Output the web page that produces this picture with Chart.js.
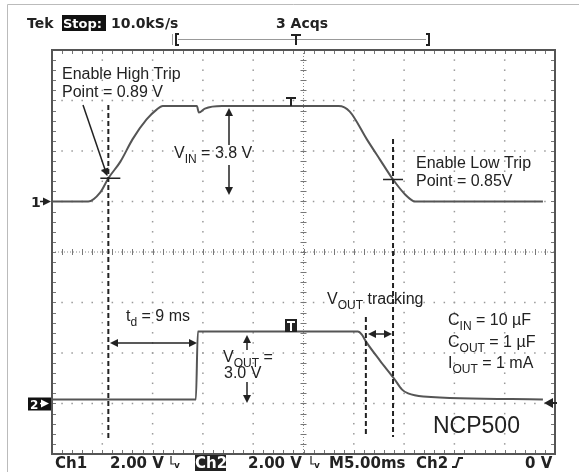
<!DOCTYPE html>
<html>
<head>
<meta charset="utf-8">
<script src="https://cdn.jsdelivr.net/npm/chart.js@4/dist/chart.umd.min.js"></script>
<style>
  body { margin: 0; background: #fff; }
  canvas { display: block; }
</style>
</head>
<body>
<canvas id="scope" width="579" height="472"></canvas>
<script>
// time axis in ms (5 ms/div), volts per channel (2 V/div)
var ch1Time  = [-25, -21.4, -20.2, -19.4, -18.2, -17.0, -15.6, -14.6, -14.0, -10.6, -10.4, -9.8, -8.1, 3.5, 4.6, 6.3, 7.6, 8.9, 10.1, 11.1, 23.8];
var ch1Volts = [0, 0, 0.36, 0.92, 1.58, 2.46, 3.25, 3.64, 3.78, 3.78, 3.52, 3.68, 3.78, 3.78, 3.56, 2.46, 1.66, 0.87, 0.28, 0, 0];
var ch2Time  = [-25, -10.7, -10.5, 5.4, 5.8, 6.2, 7.6, 9.0, 9.8, 10.4, 11.9, 23.8];
var ch2Volts = [0.16, 0.16, 2.85, 2.85, 2.73, 2.46, 1.7, 0.99, 0.55, 0.4, 0.28, 0.16];
var cursorTimes = [-19.4, 6.2, 8.9];

var voltsPerDiv = 2;
var ch1Offset = 1;   // ground marker position, in divisions
var ch2Offset = -3;

function toPoints(t, v, off) {
  var pts = [];
  for (var i = 0; i < t.length; i++) pts.push({ x: t[i], y: off + v[i] / voltsPerDiv });
  return pts;
}

function arrow(ctx, x1, y1, x2, y2) {
  var a = Math.atan2(y2 - y1, x2 - x1), h = 8;
  ctx.beginPath();
  ctx.moveTo(x1, y1);
  ctx.lineTo(x2 - Math.cos(a) * 4, y2 - Math.sin(a) * 4);
  ctx.stroke();
  ctx.beginPath();
  ctx.moveTo(x2, y2);
  ctx.lineTo(x2 - h * Math.cos(a) + 4 * Math.sin(a), y2 - h * Math.sin(a) - 4 * Math.cos(a));
  ctx.lineTo(x2 - h * Math.cos(a) - 4 * Math.sin(a), y2 - h * Math.sin(a) + 4 * Math.cos(a));
  ctx.closePath();
  ctx.fill();
}

// text with subscripts: parts = [[text, isSub], ...]
function rich(ctx, x, y, parts, size) {
  for (var i = 0; i < parts.length; i++) {
    var sub = parts[i][1];
    ctx.font = (sub ? Math.round(size * 0.72) : size) + 'px "Liberation Sans", Arial, sans-serif';
    ctx.fillText(parts[i][0], x, sub ? y + size * 0.3 : y);
    x += ctx.measureText(parts[i][0]).width;
  }
}

var gridPlugin = {
  id: 'scopeGrid',
  beforeDraw: function (chart) {
    var ctx = chart.ctx;
    ctx.save();
    ctx.fillStyle = '#fff';
    ctx.fillRect(0, 0, chart.width, chart.height);
    ctx.strokeStyle = '#bbb';
    ctx.lineWidth = 1;
    ctx.beginPath();
    ctx.moveTo(7.5, 472); ctx.lineTo(7.5, 4.5); ctx.lineTo(579, 4.5);
    ctx.stroke();
    ctx.restore();
  },
  beforeDatasetsDraw: function (chart) {
    var ctx = chart.ctx, sx = chart.scales.x, sy = chart.scales.y, a = chart.chartArea;
    ctx.save();
    ctx.fillStyle = '#999';
    var i, k, px, py;
    // dotted vertical grid
    for (i = -20; i <= 20; i += 5) {
      if (i === 0) continue;
      px = sx.getPixelForValue(i);
      for (k = -4; k <= 4.001; k += 0.2) {
        py = sy.getPixelForValue(k);
        ctx.fillRect(px - 0.75, py - 0.75, 1.5, 1.5);
      }
    }
    // dotted horizontal grid
    for (i = -3; i <= 3; i++) {
      if (i === 0) continue;
      py = sy.getPixelForValue(i);
      for (k = -25; k <= 25; k += 1) {
        px = sx.getPixelForValue(k);
        ctx.fillRect(px - 0.75, py - 0.75, 1.5, 1.5);
      }
    }
    // centre cross with minor ticks
    var cx = sx.getPixelForValue(0), cy = sy.getPixelForValue(0);
    ctx.strokeStyle = '#888';
    ctx.lineWidth = 1;
    ctx.setLineDash([1, 2]);
    ctx.beginPath();
    ctx.moveTo(a.left, cy); ctx.lineTo(a.right, cy);
    ctx.moveTo(cx, a.top); ctx.lineTo(cx, a.bottom);
    ctx.stroke();
    ctx.setLineDash([]);
    ctx.strokeStyle = '#777';
    ctx.beginPath();
    for (k = -25; k <= 25; k += 1) {
      px = Math.round(sx.getPixelForValue(k)) + 0.5;
      ctx.moveTo(px, cy - 3); ctx.lineTo(px, cy + 3);
      ctx.moveTo(px, a.top); ctx.lineTo(px, a.top + 4);
      ctx.moveTo(px, a.bottom); ctx.lineTo(px, a.bottom - 4);
    }
    for (k = -4; k <= 4.001; k += 0.2) {
      py = Math.round(sy.getPixelForValue(k)) + 0.5;
      ctx.moveTo(cx - 3, py); ctx.lineTo(cx + 3, py);
      ctx.moveTo(a.left, py); ctx.lineTo(a.left + 4, py);
      ctx.moveTo(a.right, py); ctx.lineTo(a.right - 4, py);
    }
    ctx.stroke();
    // frame
    ctx.strokeStyle = '#555';
    ctx.lineWidth = 2;
    ctx.strokeRect(a.left, a.top, a.right - a.left, a.bottom - a.top);
    ctx.restore();
  },
  afterDatasetsDraw: function (chart) {
    var ctx = chart.ctx, sx = chart.scales.x, sy = chart.scales.y;
    ctx.save();
    ctx.fillStyle = '#222';
    ctx.strokeStyle = '#222';
    ctx.textBaseline = 'alphabetic';

    // cursor lines
    ctx.lineWidth = 2;
    ctx.setLineDash([5, 3]);
    var cx0 = sx.getPixelForValue(cursorTimes[0]);
    var cx1 = sx.getPixelForValue(cursorTimes[1]);
    var cx2 = sx.getPixelForValue(cursorTimes[2]);
    ctx.beginPath();
    ctx.moveTo(cx0, 105); ctx.lineTo(cx0, 438);
    ctx.moveTo(cx2, 139); ctx.lineTo(cx2, 437);
    ctx.moveTo(cx1, 317); ctx.lineTo(cx1, 437);
    ctx.stroke();
    ctx.setLineDash([]);

    // trip point crosses
    ctx.lineWidth = 1.5;
    var y0 = sy.getPixelForValue(ch1Offset + 0.92 / voltsPerDiv);
    var y1 = sy.getPixelForValue(ch1Offset + 0.87 / voltsPerDiv);
    ctx.beginPath();
    ctx.moveTo(cx0 - 8, y0); ctx.lineTo(cx0 + 12, y0);
    ctx.moveTo(cx2 - 10, y1); ctx.lineTo(cx2 + 10, y1);
    ctx.stroke();

    // arrows
    ctx.lineWidth = 1.5;
    arrow(ctx, 83, 105, cx0 - 1, y0 - 2);
    arrow(ctx, 229, 145, 229, 108);
    arrow(ctx, 229, 165, 229, 195);
    arrow(ctx, 153, 343, 110, 343);
    arrow(ctx, 153, 343, 197, 343);
    arrow(ctx, 247, 350, 247, 335);
    arrow(ctx, 247, 382, 247, 403);
    arrow(ctx, 380, 334, 368, 334);
    arrow(ctx, 380, 334, 392, 334);

    // annotations
    ctx.font = '16px "Liberation Sans", Arial, sans-serif';
    ctx.fillText('Enable High Trip', 62, 79);
    ctx.fillText('Point = 0.89 V', 62, 97);
    ctx.fillText('Enable Low Trip', 416, 168);
    ctx.fillText('Point = 0.85V', 416, 186);
    rich(ctx, 174, 158, [['V', 0], ['IN', 1], [' = 3.8 V', 0]], 16);
    rich(ctx, 126, 321, [['t', 0], ['d', 1], [' = 9 ms', 0]], 16);
    rich(ctx, 223, 362, [['V', 0], ['OUT', 1], [' =', 0]], 16);
    rich(ctx, 224, 378, [['3.0 V', 0]], 16);
    rich(ctx, 327, 304, [['V', 0], ['OUT', 1], [' tracking', 0]], 16);
    rich(ctx, 448, 325, [['C', 0], ['IN', 1], [' = 10 \u00b5F', 0]], 16);
    rich(ctx, 448, 347, [['C', 0], ['OUT', 1], [' = 1 \u00b5F', 0]], 16);
    rich(ctx, 448, 368, [['I', 0], ['OUT', 1], [' = 1 mA', 0]], 16);
    ctx.font = '23px "Liberation Sans", Arial, sans-serif';
    ctx.fillText('NCP500', 433, 433);

    // trigger markers
    ctx.lineWidth = 2;
    ctx.beginPath();
    ctx.moveTo(286, 98); ctx.lineTo(296, 98);
    ctx.moveTo(291, 98); ctx.lineTo(291, 106);
    ctx.stroke();
    ctx.fillRect(285, 319, 12, 13);
    ctx.strokeStyle = '#fff';
    ctx.beginPath();
    ctx.moveTo(287, 322); ctx.lineTo(295, 322);
    ctx.moveTo(291, 322); ctx.lineTo(291, 331);
    ctx.stroke();
    ctx.beginPath();
    ctx.moveTo(544, 403); ctx.lineTo(553, 398); ctx.lineTo(553, 408);
    ctx.closePath();
    ctx.fill();
    ctx.fillRect(552, 402, 5, 2);

    // channel ground markers
    var g1 = sy.getPixelForValue(ch1Offset), g2 = sy.getPixelForValue(ch2Offset);
    ctx.font = 'bold 14px "DejaVu Sans", Verdana, sans-serif';
    ctx.fillText('1', 31, g1 + 5);
    ctx.strokeStyle = '#222';
    ctx.lineWidth = 1.5;
    arrow(ctx, 40, g1, 51, g1);
    ctx.fillStyle = '#111';
    ctx.fillRect(28, g2 - 6, 23, 13);
    ctx.fillStyle = '#fff';
    ctx.strokeStyle = '#fff';
    ctx.font = 'bold 12px "DejaVu Sans", Verdana, sans-serif';
    ctx.fillText('2', 30, g2 + 5);
    arrow(ctx, 40, g2, 49, g2);

    // header
    ctx.fillStyle = '#222';
    ctx.font = 'bold 14px "DejaVu Sans", Verdana, sans-serif';
    ctx.fillText('Tek', 27, 28);
    ctx.fillStyle = '#111';
    ctx.fillRect(62, 15, 44, 16);
    ctx.fillStyle = '#fff';
    ctx.font = 'bold 13px "DejaVu Sans", Verdana, sans-serif';
    ctx.fillText('Stop:', 63, 28);
    ctx.fillStyle = '#222';
    ctx.font = 'bold 14px "DejaVu Sans", Verdana, sans-serif';
    ctx.fillText('10.0kS/s', 111, 28);
    ctx.fillText('3 Acqs', 276, 28);
    ctx.strokeStyle = '#999';
    ctx.lineWidth = 1;
    ctx.beginPath();
    ctx.moveTo(178, 39.5); ctx.lineTo(426, 39.5);
    ctx.moveTo(172.5, 34); ctx.lineTo(172.5, 45);
    ctx.stroke();
    ctx.strokeStyle = '#222';
    ctx.lineWidth = 2;
    ctx.beginPath();
    ctx.moveTo(179, 34); ctx.lineTo(176, 34); ctx.lineTo(176, 45); ctx.lineTo(179, 45);
    ctx.moveTo(426, 34); ctx.lineTo(429, 34); ctx.lineTo(429, 45); ctx.lineTo(426, 45);
    ctx.moveTo(291, 35); ctx.lineTo(301, 35);
    ctx.moveTo(296, 35); ctx.lineTo(296, 45);
    ctx.stroke();

    // footer
    ctx.font = 'bold 15px "DejaVu Sans", Verdana, sans-serif';
    ctx.fillText('Ch1', 55, 468);
    ctx.fillText('2.00 V', 110, 468);
    ctx.fillRect(195, 455, 31, 16);
    ctx.fillStyle = '#fff';
    ctx.fillText('Ch2', 195, 468);
    ctx.fillStyle = '#222';
    ctx.fillText('2.00 V', 248, 468);
    ctx.fillText('M5.00ms', 329, 468);
    ctx.fillText('Ch2', 416, 468);
    ctx.fillText('0 V', 525, 468);
    // bandwidth glyphs
    ctx.lineWidth = 1.2;
    [171, 311].forEach(function (gx) {
      ctx.beginPath();
      ctx.moveTo(gx, 456); ctx.lineTo(gx, 464); ctx.lineTo(gx + 3, 464);
      ctx.stroke();
      ctx.font = 'bold 9px "DejaVu Sans", sans-serif';
      ctx.fillText('v', gx + 3, 468);
    });
    // trigger slope
    ctx.lineWidth = 2;
    ctx.beginPath();
    ctx.moveTo(452, 467); ctx.lineTo(456, 467); ctx.lineTo(459, 458); ctx.lineTo(463, 458);
    ctx.stroke();

    ctx.restore();
  }
};

var traceStyle = {
  showLine: true,
  pointRadius: 0,
  borderColor: '#555',
  backgroundColor: '#555',
  borderWidth: 2,
  cubicInterpolationMode: 'monotone'
};

new Chart(document.getElementById('scope').getContext('2d'), {
  type: 'scatter',
  data: {
    datasets: [
      Object.assign({ label: 'Ch1', data: toPoints(ch1Time, ch1Volts, ch1Offset) }, traceStyle),
      Object.assign({ label: 'Ch2', data: toPoints(ch2Time, ch2Volts, ch2Offset) }, traceStyle)
    ]
  },
  options: {
    responsive: false,
    animation: false,
    layout: { padding: { left: 52, top: 50, right: 24, bottom: 18 } },
    scales: {
      x: { type: 'linear', min: -25, max: 25, display: false },
      y: { type: 'linear', min: -4, max: 4, display: false }
    },
    plugins: { legend: { display: false }, tooltip: { enabled: false }, colors: { enabled: false } }
  },
  plugins: [gridPlugin]
});
</script>
</body>
</html>
